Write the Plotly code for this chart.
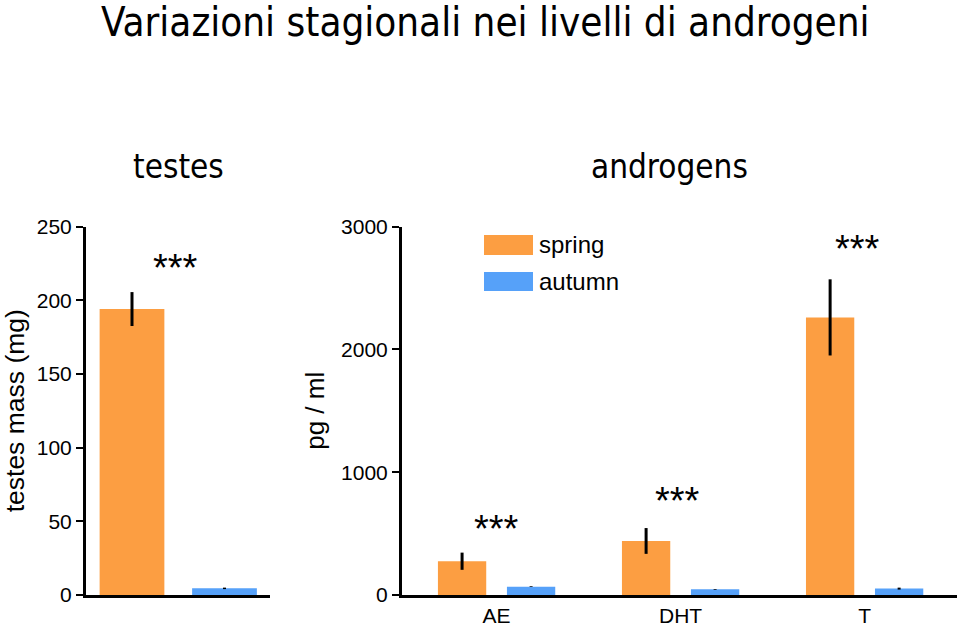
import plotly.graph_objects as go

# ---- data ----
testes_cat = ["testes"]
testes_spring = [194]
testes_spring_err = [11.5]
testes_autumn = [4.5]
testes_autumn_err = [0.5]

hormones = ["AE", "DHT", "T"]
andro_spring = [275, 440, 2260]
andro_spring_err = [70, 105, 310]
andro_autumn = [68, 46, 52]
andro_autumn_err = [3, 3, 8]

series_names = ["spring", "autumn"]
left_ticks = [0, 50, 100, 150, 200, 250]
right_ticks = [0, 1000, 2000, 3000]
left_title = "testes mass (mg)"
right_title = "pg / ml"
panel_titles = ["testes", "androgens"]
main_title = "Variazioni stagionali nei livelli di androgeni"
signif = "***"

ORANGE = "#FC9E42"
BLUE = "#56A1F9"
AX_FONT = "Liberation Sans, Arial, sans-serif"
TITLE_FONT = "DejaVu Sans Condensed, Liberation Sans Narrow, DejaVu Sans, sans-serif"

W, H = 960, 626
def fx(px):
    return px / W
def fy(py):
    return 1 - py / H

fig = go.Figure()

err_style = dict(type="data", color="black", thickness=3, width=0, visible=True)

fig.add_trace(go.Bar(x=testes_cat, y=testes_spring, name=series_names[0],
                     marker=dict(color=ORANGE, line=dict(width=0)),
                     error_y=dict(array=testes_spring_err, **err_style),
                     xaxis="x", yaxis="y", showlegend=False))
fig.add_trace(go.Bar(x=testes_cat, y=testes_autumn, name=series_names[1],
                     marker=dict(color=BLUE, line=dict(width=0)),
                     error_y=dict(array=testes_autumn_err, **err_style),
                     xaxis="x", yaxis="y", showlegend=False))
fig.add_trace(go.Bar(x=hormones, y=andro_spring, name=series_names[0],
                     marker=dict(color=ORANGE, line=dict(width=0)),
                     error_y=dict(array=andro_spring_err, **err_style),
                     xaxis="x2", yaxis="y2", showlegend=False))
fig.add_trace(go.Bar(x=hormones, y=andro_autumn, name=series_names[1],
                     marker=dict(color=BLUE, line=dict(width=0)),
                     error_y=dict(array=andro_autumn_err, **err_style),
                     xaxis="x2", yaxis="y2", showlegend=False))

ydom = [fy(595), fy(226.5)]
axis_common = dict(showline=True, linecolor="black", linewidth=3, showgrid=False,
                   zeroline=False, automargin=False,
                   tickfont=dict(family=AX_FONT, size=21, color="black"))

fig.update_layout(
    width=W, height=H,
    margin=dict(l=0, r=0, t=0, b=0, pad=0, autoexpand=False),
    paper_bgcolor="white", plot_bgcolor="white",
    barmode="group", bargap=0.25, bargroupgap=0.3,
    showlegend=False,
    xaxis=dict(domain=[fx(86), fx(270)], anchor="y", range=[-0.374, 0.372],
               showticklabels=False, ticks="", **axis_common),
    yaxis=dict(domain=ydom, anchor="x", range=[0, 250], tickvals=left_ticks,
               ticks="outside", ticklen=7, tickwidth=2, tickcolor="black",
               title=dict(text=left_title, font=dict(family=AX_FONT, size=26.5, color="black"), standoff=6),
               **axis_common),
    xaxis2=dict(domain=[fx(402), fx(957)], anchor="y2", range=[-0.514, 2.502],
                ticks="", **axis_common),
    yaxis2=dict(domain=ydom, anchor="x2", range=[0, 3000], tickvals=right_ticks,
                ticks="outside", ticklen=7, tickwidth=2, tickcolor="black",
                title=dict(text=right_title, font=dict(family=AX_FONT, size=26, color="black"), standoff=9),
                **axis_common),
)

annotations = [
    dict(text=main_title, x=fx(485), y=fy(22), xref="paper", yref="paper",
         showarrow=False, font=dict(family=TITLE_FONT, size=40, color="black"),
         xanchor="center", yanchor="middle"),
    dict(text=panel_titles[0], x=fx(178), y=fy(166), xref="paper", yref="paper",
         showarrow=False, font=dict(family=TITLE_FONT, size=33, color="black"),
         xanchor="center", yanchor="middle"),
    dict(text=panel_titles[1], x=fx(669), y=fy(166), xref="paper", yref="paper",
         showarrow=False, font=dict(family=TITLE_FONT, size=33, color="black"),
         xanchor="center", yanchor="middle"),
    # significance markers
    dict(text=signif, x=testes_cat[0], y=222, xref="x", yref="y", showarrow=False,
         font=dict(family=AX_FONT, size=38, color="black"), yanchor="middle", xshift=-3),
    dict(text=signif, x=hormones[0], y=540, xref="x2", yref="y2", showarrow=False,
         font=dict(family=AX_FONT, size=38, color="black"), yanchor="middle"),
    dict(text=signif, x=hormones[1], y=765, xref="x2", yref="y2", showarrow=False,
         font=dict(family=AX_FONT, size=38, color="black"), yanchor="middle", xshift=-3),
    dict(text=signif, x=hormones[2], y=2820, xref="x2", yref="y2", showarrow=False,
         font=dict(family=AX_FONT, size=38, color="black"), yanchor="middle", xshift=-7),
    # legend labels
    dict(text=series_names[0], x=fx(537), y=fy(245), xref="paper", yref="paper",
         showarrow=False, font=dict(family=AX_FONT, size=24, color="black"),
         xanchor="left", yanchor="middle"),
    dict(text=series_names[1], x=fx(537), y=fy(281), xref="paper", yref="paper",
         showarrow=False, font=dict(family=AX_FONT, size=24, color="black"),
         xanchor="left", yanchor="middle"),
]
fig.update_layout(annotations=annotations)

shapes = [
    dict(type="rect", xref="paper", yref="paper", x0=fx(484), x1=fx(533), y0=fy(255), y1=fy(235),
         fillcolor=ORANGE, line=dict(width=0)),
    dict(type="rect", xref="paper", yref="paper", x0=fx(484), x1=fx(533), y0=fy(291), y1=fy(272),
         fillcolor=BLUE, line=dict(width=0)),
]
fig.update_layout(shapes=shapes)

fig.write_html("out.html")
